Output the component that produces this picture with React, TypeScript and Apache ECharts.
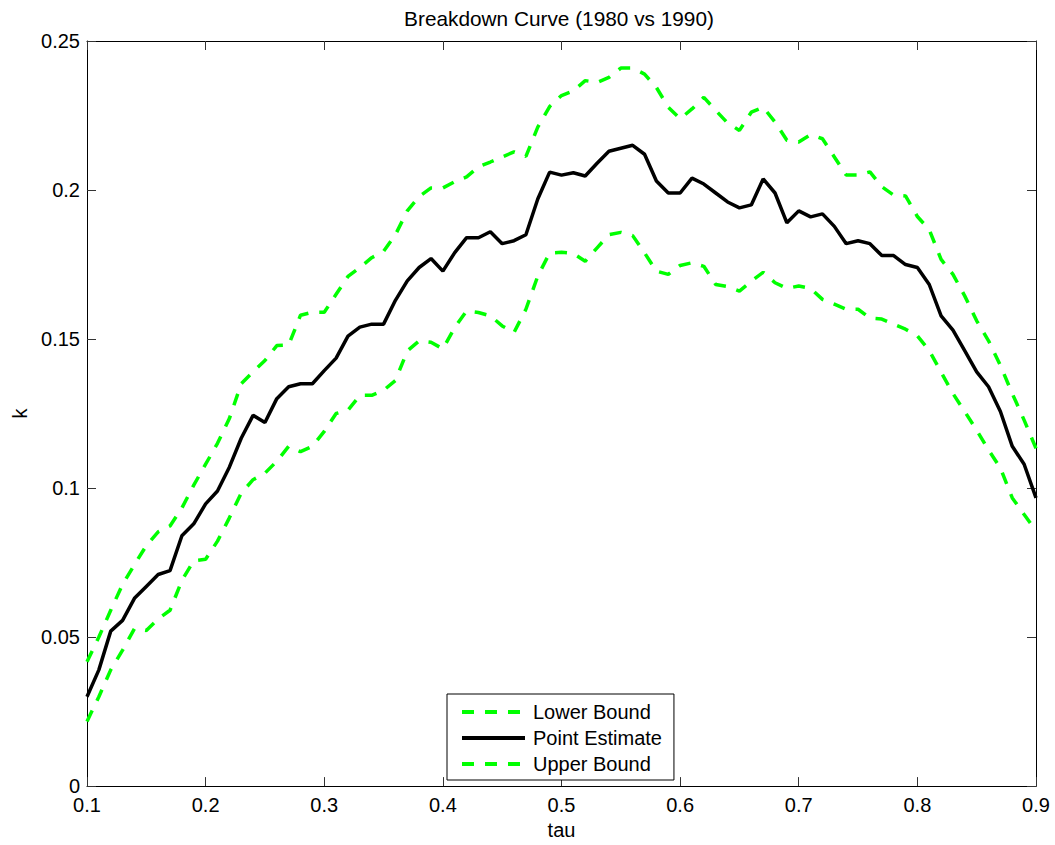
import React, { useEffect, useRef } from "react";
import * as echarts from "echarts";

const TITLE = "Breakdown Curve (1980 vs 1990)";
const X_NAME = "tau";
const Y_NAME = "k";
const SERIES_NAMES = ["Lower Bound", "Point Estimate", "Upper Bound"];

const taus = [
  0.10, 0.11, 0.12, 0.13, 0.14, 0.15, 0.16, 0.17, 0.18, 0.19,
  0.20, 0.21, 0.22, 0.23, 0.24, 0.25, 0.26, 0.27, 0.28, 0.29,
  0.30, 0.31, 0.32, 0.33, 0.34, 0.35, 0.36, 0.37, 0.38, 0.39,
  0.40, 0.41, 0.42, 0.43, 0.44, 0.45, 0.46, 0.47, 0.48, 0.49,
  0.50, 0.51, 0.52, 0.53, 0.54, 0.55, 0.56, 0.57, 0.58, 0.59,
  0.60, 0.61, 0.62, 0.63, 0.64, 0.65, 0.66, 0.67, 0.68, 0.69,
  0.70, 0.71, 0.72, 0.73, 0.74, 0.75, 0.76, 0.77, 0.78, 0.79,
  0.80, 0.81, 0.82, 0.83, 0.84, 0.85, 0.86, 0.87, 0.88, 0.89,
  0.90,
];

const pointEstimate = [
  0.030, 0.039, 0.052, 0.0556, 0.063, 0.067, 0.071, 0.0723, 0.084, 0.088,
  0.0947, 0.099, 0.107, 0.1167, 0.1244, 0.122, 0.130, 0.134, 0.135, 0.135,
  0.1394, 0.1436, 0.151, 0.154, 0.155, 0.155, 0.163, 0.1695, 0.174, 0.177,
  0.1728, 0.179, 0.184, 0.184, 0.186, 0.182, 0.183, 0.185, 0.197, 0.206,
  0.205, 0.2058, 0.2047, 0.209, 0.213, 0.214, 0.215, 0.212, 0.203, 0.199,
  0.199, 0.204, 0.202, 0.199, 0.196, 0.194, 0.195, 0.2037, 0.199, 0.189,
  0.193, 0.191, 0.192, 0.1878, 0.182, 0.183, 0.182, 0.178, 0.178, 0.175,
  0.174, 0.1683, 0.1578, 0.153, 0.146, 0.139, 0.134, 0.1257, 0.114, 0.108,
  0.0967,
];

const upperBound = [
  0.0417, 0.050, 0.059, 0.0677, 0.0743, 0.0807, 0.0853, 0.0873, 0.0933, 0.101,
  0.108, 0.115, 0.1233, 0.135, 0.139, 0.1428, 0.1478, 0.148, 0.158, 0.159,
  0.159, 0.165, 0.171, 0.174, 0.1773, 0.1794, 0.185, 0.193, 0.1978, 0.2007,
  0.2007, 0.2028, 0.2044, 0.2078, 0.2094, 0.2111, 0.2128, 0.2113, 0.2211, 0.228,
  0.2317, 0.2333, 0.2367, 0.2361, 0.2378, 0.2409, 0.2409, 0.2389, 0.2344, 0.2278,
  0.2239, 0.2272, 0.2311, 0.2267, 0.2225, 0.220, 0.2261, 0.2278, 0.2228, 0.2167,
  0.2161, 0.2186, 0.2172, 0.2111, 0.205, 0.205, 0.2061, 0.2011, 0.1983, 0.198,
  0.1911, 0.1867, 0.1767, 0.1717, 0.1644, 0.1561, 0.1494, 0.1411, 0.1317, 0.1228,
  0.1133,
];

const lowerBound = [
  0.0217, 0.030, 0.039, 0.0456, 0.0528, 0.0522, 0.0561, 0.059, 0.069, 0.0756,
  0.0761, 0.0822, 0.090, 0.0983, 0.1028, 0.105, 0.109, 0.114, 0.1122, 0.114,
  0.119, 0.125, 0.1261, 0.1311, 0.1311, 0.1328, 0.1361, 0.146, 0.1494, 0.1489,
  0.1467, 0.1539, 0.1594, 0.1589, 0.1578, 0.1544, 0.1522, 0.160, 0.1711, 0.1789,
  0.1791, 0.1787, 0.1761, 0.1806, 0.185, 0.1858, 0.1847, 0.1789, 0.1728, 0.1717,
  0.1747, 0.1756, 0.1744, 0.1683, 0.1676, 0.1661, 0.1694, 0.1724, 0.1689, 0.167,
  0.1678, 0.167, 0.1633, 0.1617, 0.160, 0.160, 0.157, 0.1567, 0.155, 0.1533,
  0.1511, 0.1461, 0.1389, 0.1317, 0.1256, 0.1194, 0.1128, 0.1067, 0.0967, 0.0911,
  0.0857,
];

const X_MIN = 0.1, X_MAX = 0.9, X_STEP = 0.1;
const Y_MIN = 0, Y_MAX = 0.25, Y_STEP = 0.05;

const FONT = "'Liberation Sans', Arial, Helvetica, sans-serif";
const GREEN = "#00ff00";
const BLACK = "#000000";

const fmt = (v: number) => String(parseFloat(v.toFixed(2)));

export default function App() {
  const ref = useRef<HTMLDivElement>(null);

  useEffect(() => {
    if (!ref.current) return;
    const chart = echarts.init(ref.current, undefined, { renderer: "svg" });

    const pairs = (ys: number[]) => taus.map((t, i) => [t, ys[i]]);

    const axisLine = { show: true, onZero: false, lineStyle: { color: BLACK, width: 1 } };
    const axisTick = { show: true, inside: true, length: 9, lineStyle: { color: "#333", width: 1 } };
    const labelStyle = { fontSize: 20, color: BLACK, fontFamily: FONT };

    const option: any = {
      animation: false,
      backgroundColor: "#ffffff",
      title: {
        text: TITLE,
        left: 554,
        top: 3,
        textAlign: "center",
        textStyle: { fontSize: 20.8, fontWeight: "normal", color: BLACK, fontFamily: FONT },
      },
      grid: { left: 87, top: 41, right: 19, bottom: 55, containLabel: false },
      legend: {
        data: SERIES_NAMES,
        orient: "vertical",
        left: 447,
        top: 694,
        itemWidth: 63,
        itemHeight: 14,
        itemGap: 6,
        padding: [8, 12, 6, 13],
        borderColor: BLACK,
        borderWidth: 1,
        backgroundColor: "#ffffff",
        itemStyle: { opacity: 0 },
        lineStyle: { opacity: 1, width: 4 },
        textStyle: { fontSize: 20, color: BLACK, fontFamily: FONT, padding: [0, 0, 0, 3] },
      },
      xAxis: [
        {
          type: "value",
          position: "bottom",
          min: X_MIN,
          max: X_MAX,
          interval: X_STEP,
          axisLine,
          axisTick,
          splitLine: { show: false },
          axisLabel: { ...labelStyle, lineHeight: 16, margin: 11, formatter: fmt },
          name: X_NAME,
          nameLocation: "middle",
          nameGap: 26,
          nameTextStyle: labelStyle,
        },
        {
          type: "value",
          position: "top",
          min: X_MIN,
          max: X_MAX,
          interval: X_STEP,
          axisLine,
          axisTick,
          splitLine: { show: false },
          axisLabel: { show: false },
        },
      ],
      yAxis: [
        {
          type: "value",
          position: "left",
          min: Y_MIN,
          max: Y_MAX,
          interval: Y_STEP,
          axisLine,
          axisTick,
          splitLine: { show: false },
          axisLabel: { ...labelStyle, lineHeight: 14, margin: 7, formatter: fmt },
          name: Y_NAME,
          nameLocation: "middle",
          nameRotate: 90,
          nameGap: 57,
          nameTextStyle: labelStyle,
        },
        {
          type: "value",
          position: "right",
          min: Y_MIN,
          max: Y_MAX,
          interval: Y_STEP,
          axisLine,
          axisTick,
          splitLine: { show: false },
          axisLabel: { show: false },
        },
      ],
      series: [
        {
          name: SERIES_NAMES[0],
          type: "line",
          xAxisIndex: 0,
          yAxisIndex: 0,
          data: pairs(lowerBound),
          symbol: "none",
          lineStyle: { color: GREEN, width: 3.5, type: [12, 11] },
          itemStyle: { color: GREEN },
        },
        {
          name: SERIES_NAMES[1],
          type: "line",
          xAxisIndex: 0,
          yAxisIndex: 0,
          data: pairs(pointEstimate),
          symbol: "none",
          lineStyle: { color: BLACK, width: 3.5, type: "solid" },
          itemStyle: { color: BLACK },
        },
        {
          name: SERIES_NAMES[2],
          type: "line",
          xAxisIndex: 0,
          yAxisIndex: 0,
          data: pairs(upperBound),
          symbol: "none",
          lineStyle: { color: GREEN, width: 3.5, type: [12, 11] },
          itemStyle: { color: GREEN },
        },
      ],
    };

    chart.setOption(option);
    return () => chart.dispose();
  }, []);

  return (
    <div
      ref={ref}
      style={{ position: "fixed", left: 0, top: 0, width: 1055, height: 845, background: "#fff" }}
    />
  );
}
